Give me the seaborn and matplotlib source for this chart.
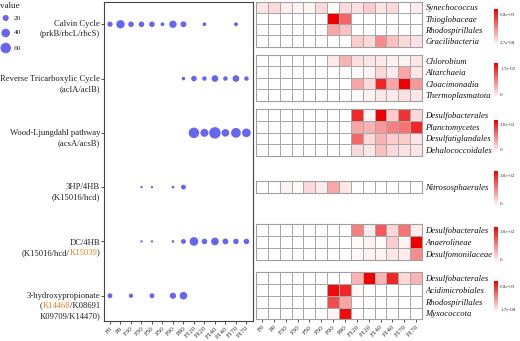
import numpy as np
import pandas as pd
import seaborn as sns
import matplotlib.pyplot as plt
from matplotlib.colors import LinearSegmentedColormap

sns.set_style("white")
plt.rcParams['font.family'] = ['Liberation Serif', 'DejaVu Serif']

W, H = 520, 341

samples = ["F0", "P0", "F30", "P30", "F50", "P50", "F90", "P90",
           "F120", "P120", "F140", "P140", "F170", "P170"]

# dot plot values per pathway (0 = no dot)
calvin = [15, 38, 17, 17, 17, 8, 29, 19, 0, 8, 0, 0, 8, 0]
rtca = [0, 0, 0, 0, 0, 0, 0, 7, 17, 11, 24, 11, 24, 11]
wood = [0, 0, 0, 0, 0, 0, 0, 0, 60, 35, 72, 32, 52, 41]
hp_hb = [0, 0, 0, 3, 3, 0, 4, 13, 0, 0, 0, 0, 0, 0]
dc_hb = [0, 0, 0, 3, 3, 0, 4, 13, 41, 17, 32, 19, 17, 17]
hp = [13, 0, 10, 0, 13, 0, 21, 32, 0, 0, 0, 0, 0, 0]
pathway_values = [calvin, rtca, wood, hp_hb, dc_hb, hp]

BLACK = "#222222"
ORANGE = "#E8801E"
pathway_labels = [
    [[("Calvin Cycle", BLACK)], [("(prkB/rbcL/rbcS)", BLACK)]],
    [[("Reverse Tricarboxylic Cycle", BLACK)], [("(aclA/aclB)", BLACK)]],
    [[("Wood-Ljungdahl pathway", BLACK)], [("(acsA/acsB)", BLACK)]],
    [[("3HP/4HB", BLACK)], [("(K15016/hcd)", BLACK)]],
    [[("DC/4HB", BLACK)], [("(K15016/hcd/", BLACK), ("K15039", ORANGE), (")", BLACK)]],
    [[("3-hydroxypropionate", BLACK)],
     [("(", BLACK), ("K14468", ORANGE), ("/K08691", BLACK)],
     [("K09709/K14470)", BLACK)]],
]
legend_values = [20, 40, 60]

# heatmap groups, values in units of 1e-3
syn = [0.7, 1.0, 0.5, 0.3, 0.3, 1.0, 0.0, 1.0, 0.8, 1.4, 0.7, 1.0, 0.1, 0.5]
thio = [0, 0, 0, 0, 0, 0, 6.8, 4.1, 0, 0, 0, 0, 0, 0]
rhodo = [0, 0, 0, 0, 0, 0, 2.4, 1.7, 0, 0, 0, 0, 0, 0]
graci = [0, 0, 0, 0, 0, 0, 0, 0, 1.4, 1.0, 3.1, 1.7, 1.0, 0.8]

chloro = [0, 0, 0, 0, 0, 0, 1.4, 5.1, 2.0, 1.7, 1.4, 0.9, 0.9, 1.7]
altar = [0, 0, 0, 0, 0, 0, 0, 0, 0.5, 0.9, 2.6, 1.4, 6.0, 1.7]
cloac = [0, 0, 0, 0, 0, 0, 0, 0, 6.0, 2.6, 14.5, 6.0, 17.0, 6.8]
thermo = [0, 0, 0, 0, 0, 0, 0, 0, 0.5, 0.9, 1.7, 1.4, 2.0, 1.7]

desulfob = [0, 0, 0, 0, 0, 0, 0, 0, 17, 1, 20, 4, 16, 3]
plancto = [0, 0, 0, 0, 0, 0, 0, 0, 7, 6, 8, 10, 11, 17]
desulfat = [0, 0, 0, 0, 0, 0, 0, 0, 12, 3, 6, 4, 4, 2]
dehalo = [0, 0, 0, 0, 0, 0, 0, 0, 3, 2, 5, 3, 2.4, 2]

nitroso = [0, 0, 1, 0.4, 3, 1.6, 7, 2, 0, 0, 0, 0, 0, 0]

desulfob2 = [0, 0, 0, 0, 0, 0, 0, 0, 10, 1.6, 13, 3, 11, 1.6]
anaero = [0, 0, 0, 0, 0, 0.4, 0, 0, 0.4, 1, 0.4, 4, 1, 20]
desulfom = [0, 0, 0, 0, 0, 0, 0, 0, 0.6, 1, 1, 2, 1.6, 9]

desulfob3 = [0, 0, 0, 0, 0, 0, 0, 0, 2.0, 6.8, 2.0, 5.8, 1.0, 2.0]
acidi = [0, 0, 0, 0, 0, 0, 6.5, 5.8, 0.2, 0, 0, 0, 0, 0]
rhodo2 = [0, 0, 0, 0, 0, 0, 4.8, 2.4, 0.1, 0, 0, 0, 0, 0]
myxo = [0, 0, 0, 0, 0, 0, 0.3, 6.5, 0, 0, 0, 0, 0, 0]

groups = [
    (["Synechococcus", "Thioglobaceae", "Rhodospirillales", "Gracilibacteria"],
     [syn, thio, rhodo, graci], 2.7e-8, 6.8e-3, ["6.8e-03", "2.7e-08"]),
    (["Chlorobium", "Altarchaeia", "Cloacimonadia", "Thermoplasmatota"],
     [chloro, altar, cloac, thermo], 0, 1.7e-2, ["1.7e-02", "0"]),
    (["Desulfobacterales", "Planctomycetes", "Desulfatiglandales", "Dehalococcoidales"],
     [desulfob, plancto, desulfat, dehalo], 0, 2.0e-2, ["2.0e-02", "0"]),
    (["Nitrososphaerales"], [nitroso], 0, 2.0e-2, ["2.0e-02", "0"]),
    (["Desulfobacterales", "Anaerolineae", "Desulfomonilaceae"],
     [desulfob2, anaero, desulfom], 0, 2.0e-2, ["2.0e-02", "0"]),
    (["Desulfobacterales", "Acidimicrobiales", "Rhodospirillales", "Myxococcota"],
     [desulfob3, acidi, rhodo2, myxo], 1.7e-8, 6.8e-3, ["6.8e-03", "1.7e-08"]),
]

# layout in pixels (top, bottom)
heat_rows = [(1.7, 46.7), (55, 100.7), (109.3, 156), (180.7, 192.7), (224.3, 260.3), (272.3, 319.3)]
cbar_rows = [(9.3, 45.3), (63.3, 97.3), (120, 152.3), (171, 206.3), (226.7, 262.3), (281, 312.3)]
label_y = [24.3, 78.7, 132.7, 186.7, 242.7, 295.7]


def box(x0, y0, x1, y1):
    return [x0 / W, 1 - y1 / H, (x1 - x0) / W, (y1 - y0) / H]


fig = plt.figure(figsize=(W / 100, H / 100), dpi=100)

DOT = "#6666EE"
SIZES = (0, 76)
NORM = (0, 80)

# ---- dot plot ----
rows = []
for yi, vals in enumerate(pathway_values):
    for xi, v in enumerate(vals):
        if v > 0:
            rows.append({"sample": samples[xi], "pathway": yi, "value": v})
dots = pd.DataFrame(rows)
dots["xi"] = pd.Categorical(dots["sample"], categories=samples).codes

ax = fig.add_axes(box(103.7, 2, 252.7, 320.7))
sns.scatterplot(data=dots, x="xi", y="pathway", size="value", sizes=SIZES,
                size_norm=NORM, color=DOT, edgecolor="none", legend=False, ax=ax)
ax.set_xlim(-0.6, 13.6)
ax.set_ylim(5.46, -0.41)
ax.set_xticks(range(len(samples)))
ax.set_xticklabels(samples, rotation=45, ha="right", rotation_mode="anchor",
                   fontsize=5, color="#333333")
ax.set_yticks(range(len(pathway_values)))
ax.set_yticklabels([])
ax.tick_params(axis="both", length=2, width=0.6, color="#333333", pad=1.5, bottom=True, left=True)
ax.set_xlabel("")
ax.set_ylabel("")
for sp in ax.spines.values():
    sp.set_color("#444444")
    sp.set_linewidth(0.8)

# y labels with mixed colours, built right to left
for ly, lines in zip(label_y, pathway_labels):
    for k, pieces in enumerate(lines):
        y = ly + 10 * k
        prev = None
        for text, color in reversed(pieces):
            if prev is None:
                prev = fig.text(100 / W, 1 - y / H, text, ha="right", va="center",
                                color=color, fontsize=6.2)
            else:
                prev = ax.annotate(text, xy=(0, 0), xycoords=prev, ha="right",
                                   va="bottom", color=color, fontsize=6.2,
                                   annotation_clip=False)

# ---- size legend ----
lax = fig.add_axes(box(0, 0, 30, 56))
sns.scatterplot(x=[5.7] * len(legend_values), y=[18, 33, 48], size=legend_values,
                sizes=SIZES, size_norm=NORM, color=DOT, edgecolor="none",
                legend=False, ax=lax)
lax.set_xlim(0, 30)
lax.set_ylim(56, 0)
lax.axis("off")
lax.text(0.5, 6, "value", fontsize=6.5, va="center", ha="left", color=BLACK)
for v, y in zip(legend_values, [18, 33, 48]):
    lax.text(13.5, y, str(v), fontsize=5.3, va="center", ha="left", color=BLACK)

# ---- heatmaps ----
cmap = LinearSegmentedColormap.from_list("wr", ["#FFFFFF", "#EE0000"])
for i, (taxa, vals, vmin, vmax, cb_labels) in enumerate(groups):
    top, bot = heat_rows[i]
    ctop, cbot = cbar_rows[i]
    df_g = pd.DataFrame(np.array(vals) * 1e-3, index=taxa, columns=samples)
    last = i == len(groups) - 1
    axh = fig.add_axes(box(256, top, 422, bot))
    cax = fig.add_axes(box(494, ctop, 498, cbot))
    sns.heatmap(df_g, ax=axh, cmap=cmap, vmin=vmin, vmax=vmax, linewidths=0.5,
                linecolor="#a8a8a8", cbar_ax=cax, xticklabels=last, yticklabels=True)
    axh.yaxis.tick_right()
    axh.set_yticklabels(taxa, rotation=0, fontstyle="italic", fontsize=6.2, color="#111111")
    axh.tick_params(axis="y", length=0, pad=2.5)
    if last:
        axh.set_xticklabels(samples, rotation=45, ha="right", rotation_mode="anchor",
                            fontsize=5, color="#333333")
        axh.tick_params(axis="x", length=2, width=0.6, color="#333333", pad=1.5, bottom=True)
    for sp in axh.spines.values():
        sp.set_visible(True)
        sp.set_color("#a0a0a0")
        sp.set_linewidth(0.8)
    axh.set_xlabel("")
    axh.set_ylabel("")
    cb = axh.collections[0].colorbar
    cb.outline.set_visible(False)
    h = cbot - ctop
    cb.set_ticks([vmin + (vmax - vmin) * (1 - 5 / h), vmin + (vmax - vmin) * (3 / h)])
    cb.set_ticklabels(cb_labels)
    cax.tick_params(length=0, labelsize=3.6, pad=1.5, colors="#333333")

fig.savefig("out.png", dpi=100)
